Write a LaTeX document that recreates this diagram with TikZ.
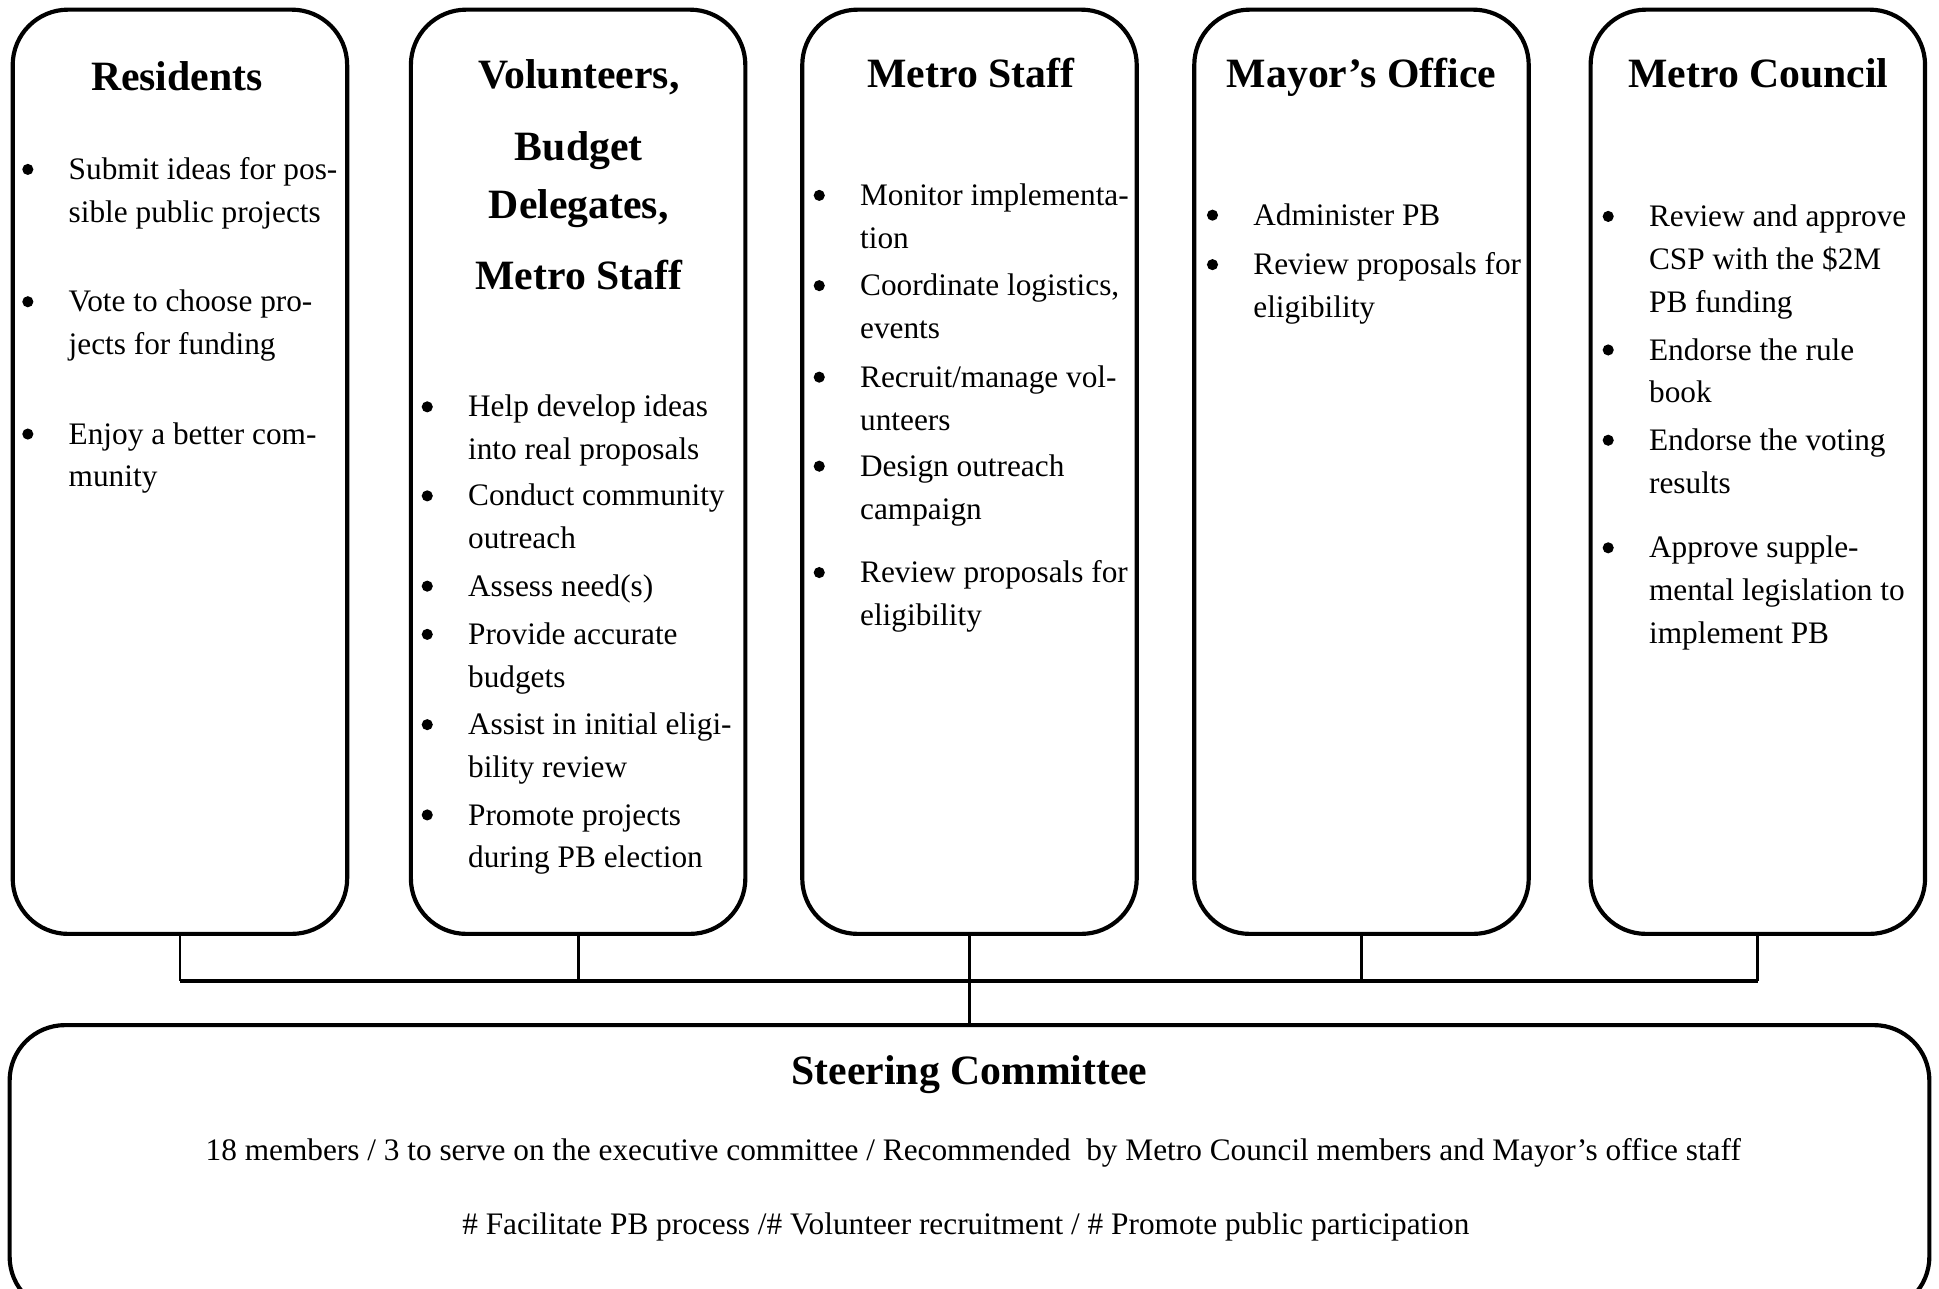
\documentclass[tikz,border=0pt]{standalone}
\usepackage{fontspec}
\setmainfont{Liberation Serif}

\tikzset{
	panel/.style={draw, line width=1.2pt, rounded corners=0.56cm, minimum width=3.38cm, minimum height=9.34cm},
	titolo/.style={inner sep=0pt, align=center, font=\fontsize{12}{14.4}\selectfont\bfseries},
	voce/.style={anchor=north west, inner sep=0pt, align=left, font=\fontsize{9}{12.3}\selectfont},
	riga/.style={anchor=base, inner sep=0pt, font=\fontsize{9}{12.3}\selectfont},
}
% punto elenco: nome, x testo, y prima riga, testo
\newcommand{\punto}[4]{%
	\fill (#2-32.5,#3) circle (1.6pt);
	\node[voce] (#1) at (#2,#3-16.6) {\strut #4};
}

\begin{document}
\begin{tikzpicture}[x=0.0125cm, y=-0.0125cm]
	\useasboundingbox (0,0) rectangle (1568,1042);
	%%%	Riquadri
	\node[panel] (res) at (145.5,381.5) {};
	\node[panel] (vol) at (467.5,381.5) {};
	\node[panel] (ms) at (784,381.5) {};
	\node[panel] (mo) at (1101,381.5) {};
	\node[panel] (mc) at (1421.5,381.5) {};
	\node[panel, minimum width=19.4cm, minimum height=2.9cm] (sc) at (784,945) {};
	
	%%%	Collegamenti
	\coordinate (bar) at (784,793);
	\draw[line width=0.8pt] (res.south) -- (res.south |- bar);
	\draw[line width=0.8pt] (vol.south) -- (vol.south |- bar);
	\draw[line width=0.8pt] (ms.south) -- (sc.north);
	\draw[line width=0.8pt] (mo.south) -- (mo.south |- bar);
	\draw[line width=0.8pt] (mc.south) -- (mc.south |- bar);
	\draw[line width=1.2pt] (res.south |- bar) -- (mc.south |- bar);
	
	%%%	Residents
	\node[titolo, anchor=base] (t1) at (143,73) {Residents};
	\punto{r1}{55}{137}{Submit ideas for pos-\\sible public projects}
	\punto{r2}{55}{244}{Vote to choose pro-\\jects for funding}
	\punto{r3}{55}{351}{Enjoy a better com-\\munity}
	
	%%%	Volunteers
	\node[titolo, anchor=north] (t2) at (468,42.7) {\strut Volunteers,\\[6.2pt] Budget\\[2.3pt] Delegates,\\[6.2pt] Metro Staff};
	\punto{v1}{378}{329}{Help develop ideas\\into real proposals}
	\punto{v2}{378}{401}{Conduct community\\outreach}
	\punto{v3}{378}{474}{Assess need(s)}
	\punto{v4}{378}{513}{Provide accurate\\budgets}
	\punto{v5}{378}{586}{Assist in initial eligi-\\bility review}
	\punto{v6}{378}{659}{Promote projects\\during PB election}
	
	%%%	Metro Staff
	\node[titolo, anchor=base] (t3) at (785,71) {Metro Staff};
	\punto{s1}{695}{158}{Monitor implementa-\\tion}
	\punto{s2}{695}{231}{Coordinate logistics,\\events}
	\punto{s3}{695}{305}{Recruit/manage vol-\\unteers}
	\punto{s4}{695}{377}{Design outreach\\campaign}
	\punto{s5}{695}{463}{Review proposals for\\eligibility}
	
	%%%	Mayor's Office
	\node[titolo, anchor=base] (t4) at (1101,71) {Mayor’s Office};
	\punto{m1}{1013}{174}{Administer PB}
	\punto{m2}{1013}{214}{Review proposals for\\eligibility}
	
	%%%	Metro Council
	\node[titolo, anchor=base] (t5) at (1422,71) {Metro Council};
	\punto{c1}{1333}{175}{Review and approve\\CSP with the \$2M\\PB funding}
	\punto{c2}{1333}{283}{Endorse the rule\\book}
	\punto{c3}{1333}{356}{Endorse the voting\\results}
	\punto{c4}{1333}{443}{Approve supple-\\mental legislation to\\implement PB}
	
	%%%	Steering Committee
	\node[titolo, anchor=base] (t6) at (784,877) {Steering Committee};
	\node[riga] (sc1) at (787,938.6) {18 members / 3 to serve on the executive committee / Recommended~ by Metro Council members and Mayor’s office staff};
	\node[riga] (sc2) at (781,998.6) {\# Facilitate PB process /\# Volunteer recruitment / \# Promote public participation};
\end{tikzpicture}
\end{document}
